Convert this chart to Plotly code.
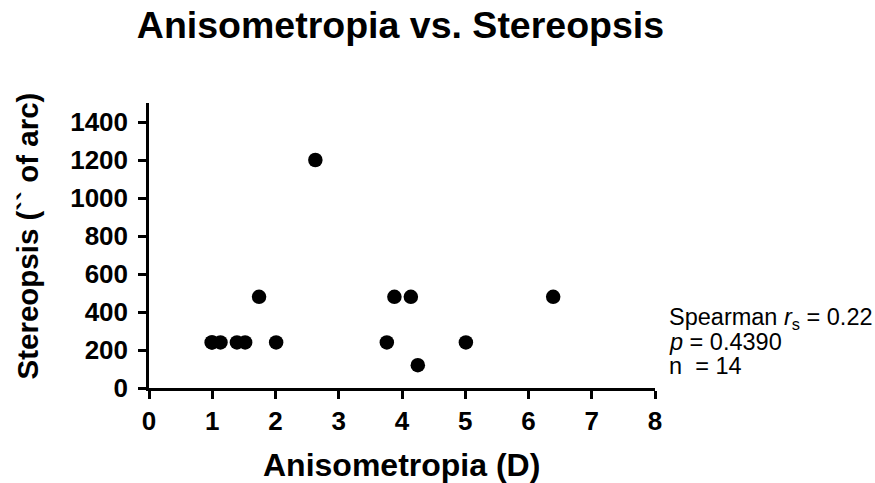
import plotly.graph_objects as go

# Data
anisometropia = [0.99, 1.0, 1.13, 1.39, 1.52, 1.74, 2.01, 2.63, 3.76, 3.88, 4.14, 4.25, 5.01, 6.39]
stereopsis = [240, 240, 240, 240, 240, 480, 240, 1200, 240, 480, 480, 120, 240, 480]
x_ticks = [0, 1, 2, 3, 4, 5, 6, 7, 8]
y_ticks = [0, 200, 400, 600, 800, 1000, 1200, 1400]
stats_lines = ["Spearman <i>r</i><sub>s</sub> = 0.22", "<i>p</i> = 0.4390", "n \u00a0= 14"]

FONT = "Liberation Sans, Arial, sans-serif"

# plot-area geometry in pixels
L, R, T, B = 149, 655, 103, 388
W, H = R - L, B - T

fig = go.Figure()
fig.add_trace(go.Scatter(
    x=anisometropia, y=stereopsis, mode="markers",
    marker=dict(color="black", size=14.5, line=dict(width=0)),
    cliponaxis=False, showlegend=False,
))

fig.update_layout(
    width=875, height=483,
    margin=dict(l=L, r=875 - R, t=T, b=483 - B),
    paper_bgcolor="white", plot_bgcolor="white",
    font=dict(family=FONT, color="black"),
    title=dict(
        text="<b>Anisometropia vs. Stereopsis</b>",
        x=(138 + 663) / 2 / 875, xanchor="center",
        y=1 - 25 / 483, yanchor="middle", yref="container",
        font=dict(size=37.5, family=FONT, color="black"),
    ),
    xaxis=dict(
        range=[0, 8], tickvals=x_ticks, ticktext=[f"<b>{v}</b>" for v in x_ticks],
        showline=True, linecolor="black", linewidth=2.5,
        ticks="outside", ticklen=8, tickwidth=2.5, tickcolor="black",
        showgrid=False, zeroline=False, automargin=False,
        tickfont=dict(size=26, family=FONT, color="black"),
    ),
    yaxis=dict(
        range=[0, 1500], tickvals=y_ticks, ticktext=[f"<b>{v}</b>" for v in y_ticks],
        showline=True, linecolor="black", linewidth=2.5,
        ticks="outside", ticklen=8, tickwidth=2.5, tickcolor="black",
        ticklabelstandoff=5, automargin=False,
        showgrid=False, zeroline=False,
        tickfont=dict(size=26, family=FONT, color="black"),
    ),
)

# axis titles placed to match the reference positions
fig.add_annotation(
    xref="paper", yref="paper", x=-(L - 27) / W, y=(B - 236.5) / H,
    xanchor="center", yanchor="middle", textangle=-90, showarrow=False,
    text="<b>Stereopsis (`` of arc)</b>",
    font=dict(size=29.5, family=FONT, color="black"),
)
fig.add_annotation(
    xref="paper", yref="paper", x=((262 + 540) / 2 - L) / W, y=-(465 - B) / H,
    xanchor="center", yanchor="middle", showarrow=False,
    text="<b>Anisometropia (D)</b>",
    font=dict(size=32, family=FONT, color="black"),
)

for i, line in enumerate(stats_lines):
    fig.add_annotation(
        xref="paper", yref="paper", x=1 + 12 / W, y=(B - (318 + 24 * i)) / H,
        xanchor="left", yanchor="middle", align="left", showarrow=False,
        text=line, font=dict(size=23.5, family=FONT, color="black"),
    )

fig.write_html("out.html")
